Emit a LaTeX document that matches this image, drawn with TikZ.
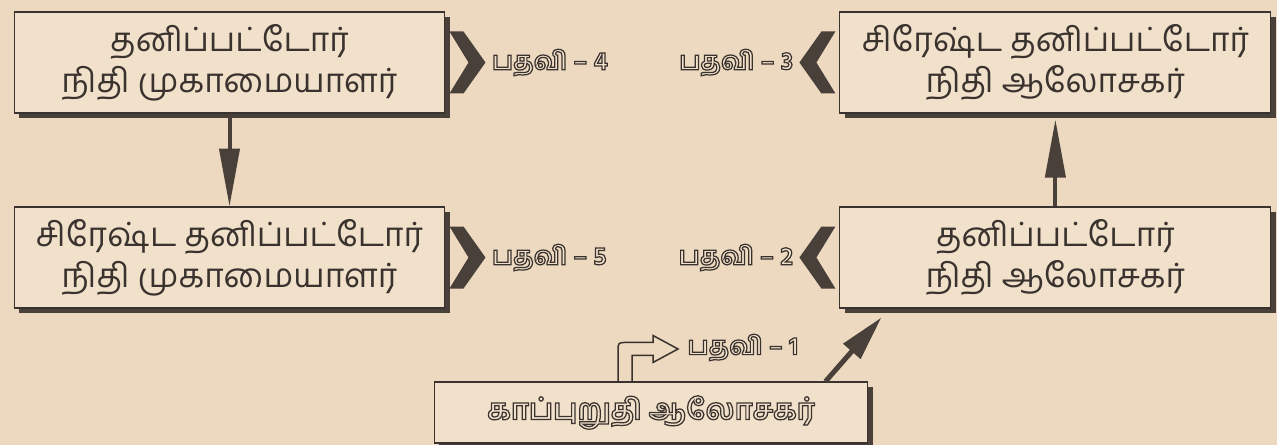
\documentclass[tikz,border=0pt]{standalone}
\usepackage{fontspec}
\usetikzlibrary{positioning,shadows,arrows.meta}
\newfontfamily\tamil[Script=Tamil]{Hind Madurai}
\definecolor{paper}{RGB}{236,217,192}
\definecolor{boxfill}{RGB}{241,225,203}
\definecolor{ink}{RGB}{58,50,46}
\definecolor{darkink}{RGB}{74,64,58}
\newcommand{\rankname}[1]{{\color{boxfill}\special{pdf:literal direct 2 Tr 0.7 w 0.227 0.196 0.18 RG}#1\special{pdf:literal direct 0 Tr}}}

\begin{document}
\begin{tikzpicture}[x=0.02cm,y=-0.02cm,
    post/.style={draw=ink,line width=0.6pt,fill=boxfill,minimum width=8.62cm,
      minimum height=2.02cm,align=center,text=ink,
      font=\tamil\fontsize{19}{23.5}\selectfont,
      drop shadow={shadow xshift=0.1cm,shadow yshift=-0.1cm,opacity=1,fill=darkink}},
    rank/.style={inner sep=0pt,font=\tamil\bfseries\fontsize{14.5}{17}\selectfont},
    chevron/.pic={\fill[darkink] (4,-31) -- (18,-31) -- (40,0) -- (18,31) -- (4,31) -- (23,0) -- cycle;}]
        \useasboundingbox[fill=paper] (0,0) rectangle (1277,445);

        \node[post] (p4) at (229.5,62.5) {தனிப்பட்டோர்\\நிதி முகாமையாளர்};
        \node[post,right=7.88cm of p4] (p3) {சிரேஷ்ட தனிப்பட்டோர்\\நிதி ஆலோசகர்};
        \node[post,below=1.86cm of p4] (p5) {சிரேஷ்ட தனிப்பட்டோர்\\நிதி முகாமையாளர்};
        \node[post,below=1.86cm of p3] (p2) {தனிப்பட்டோர்\\நிதி ஆலோசகர்};

        \node[post,minimum width=8.68cm,minimum height=1.22cm,
          font=\tamil\bfseries\fontsize{16.5}{20}\selectfont] (b) at (651,412.5)
          {\rankname{காப்புறுதி ஆலோசகர்}};

        \pic at (p4.east) {chevron};
        \pic at (p5.east) {chevron};
        \pic[xscale=-1] at (p3.west) {chevron};
        \pic[xscale=-1] at (p2.west) {chevron};

        \node[rank,right=0.92cm of p4] (r4) {\rankname{பதவி – 4}};
        \node[rank,left=0.92cm of p3] (r3) {\rankname{பதவி – 3}};
        \node[rank,right=0.92cm of p5] (r5) {\rankname{பதவி – 5}};
        \node[rank,left=0.92cm of p2] (r2) {\rankname{பதவி – 2}};
        \node[rank,anchor=west] (r1) at ([shift={(0.72cm,0.68cm)}]b.north) {\rankname{பதவி – 1}};

        \begin{scope}[shift={(b.north)}]
          \draw[ink,line width=0.85pt] (-33,0) -- (-33,-30) .. controls (-33,-39) .. (-24,-39)
            -- (2,-39) -- (2,-46) -- (27,-32.5) -- (2,-19) -- (2,-26) -- (-19,-26) -- (-19,0);
        \end{scope}

        \path[-{Triangle[length=1.16cm,width=0.4cm]},color=darkink,line width=0.08cm]

        (p4) edge (p5)

        (p2) edge[shorten >=0.12cm] (p3)

        ([xshift=-0.86cm]b.north east) edge[line width=0.1cm,-{Triangle[length=0.9cm,width=0.44cm]}]
          ([shift={(0.84cm,-0.18cm)}]p2.south west)

        ;
\end{tikzpicture}
\end{document}
